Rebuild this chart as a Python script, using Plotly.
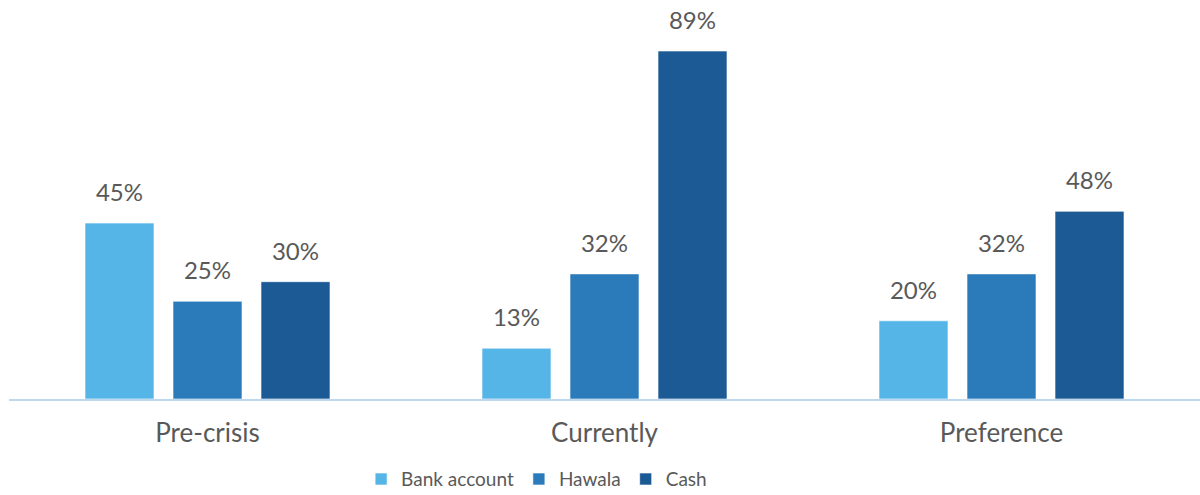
import plotly.graph_objects as go

# Payment method used, by period
categories = ["Pre-crisis", "Currently", "Preference"]
series_names = ["Bank account", "Hawala", "Cash"]
bank_account = [45, 13, 20]
hawala = [25, 32, 32]
cash = [30, 89, 48]
series_values = [bank_account, hawala, cash]
colors = ["#56B5E7", "#2B7BBB", "#1C5A96"]

TEXT_GREY = "#595959"
FONT = "Lato, 'Noto Sans', sans-serif"

fig = go.Figure()

for name, vals, col in zip(series_names, series_values, colors):
    fig.add_trace(go.Bar(
        name=name,
        x=categories,
        y=vals,
        marker=dict(color=col, line=dict(color="rgba(255,255,255,0.6)", width=1)),
        offsetgroup=name,
        hoverinfo="skip",
    ))

# Value labels: invisible markers in the same offset groups lift the text
for name, vals in zip(series_names, series_values):
    fig.add_trace(go.Scatter(
        x=categories,
        y=vals,
        mode="markers+text",
        text=[f"{v}%" for v in vals],
        textposition="top center",
        textfont=dict(size=24, color=TEXT_GREY, family=FONT),
        marker=dict(size=24, opacity=0),
        offsetgroup=name,
        showlegend=False,
        hoverinfo="skip",
        cliponaxis=False,
    ))

fig.update_layout(
    width=1200,
    height=495,
    margin=dict(l=9, r=0, t=8, b=96, autoexpand=False),
    paper_bgcolor="white",
    plot_bgcolor="white",
    barmode="group",
    bargap=0.335,
    bargroupgap=0.216,
    scattermode="group",
    scattergap=0.335,
    font=dict(family=FONT, color=TEXT_GREY),
    showlegend=True,
    legend=dict(
        orientation="h",
        x=0.443,
        xanchor="center",
        y=-0.205,
        yanchor="middle",
        font=dict(size=19, color=TEXT_GREY, family=FONT),
        itemwidth=30,
        traceorder="normal",
        borderwidth=0,
    ),
    xaxis=dict(
        showgrid=False,
        showline=True,
        linecolor="#BDD7EE",
        linewidth=2,
        ticks="",
        automargin=False,
        tickfont=dict(size=26, color=TEXT_GREY, family=FONT),
        ticklabelstandoff=10,
    ),
    yaxis=dict(
        range=[0, 100],
        showgrid=False,
        showticklabels=False,
        zeroline=False,
        showline=False,
        automargin=False,
    ),
)

fig.write_html("out.html")
